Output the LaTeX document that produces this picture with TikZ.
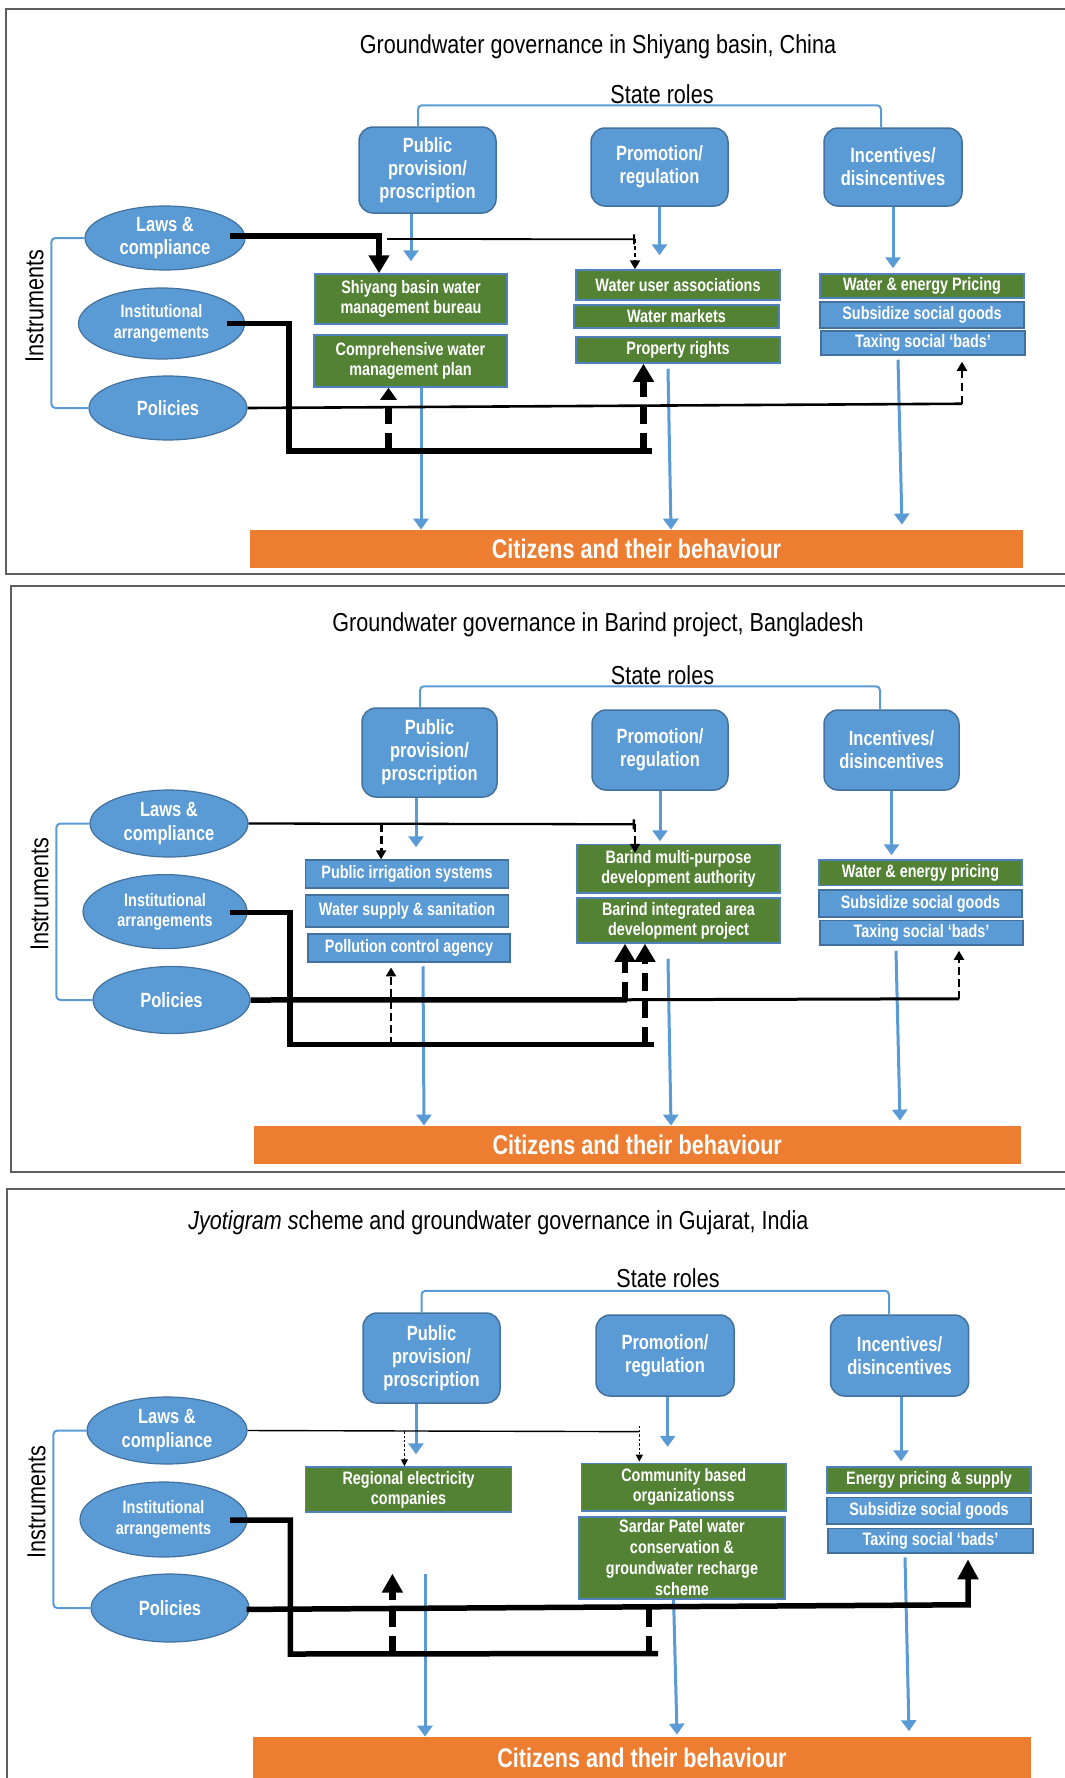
\documentclass[tikz,border=0pt]{standalone}
\usepackage{fontspec}
\setmainfont{Liberation Sans}[FakeStretch=0.83]
\newfontfamily\bxf{Liberation Sans}[FakeStretch=0.8]
\usetikzlibrary{arrows.meta,calc,shapes.geometric}
\definecolor{bfill}{HTML}{5B9BD5}
\definecolor{bdr}{HTML}{41719C}
\definecolor{gfill}{HTML}{548235}
\definecolor{gbdr}{HTML}{4F81BD}
\definecolor{orng}{HTML}{ED7D31}
\definecolor{frm}{HTML}{5F5F5F}
\tikzset{
 every node/.style={inner sep=0pt},
 ttl/.style={font=\fontsize{13}{15}\selectfont},
 role/.style={draw=bdr, fill=bfill, line width=0.75pt, rounded corners=7pt, text=white, align=center, font=\bxf\bfseries\fontsize{10.3}{11.5}\selectfont},
 gbx/.style={draw=gbdr, fill=gfill, line width=0.75pt, text=white, align=center, font=\bxf\bfseries\fontsize{9}{10}\selectfont},
 bbx/.style={gbx, fill=bfill, draw=bdr},
 ell/.style={ellipse, draw=bdr, fill=bfill, line width=0.6pt, text=white, align=center, font=\bxf\bfseries\fontsize{10.3}{11.7}\selectfont},
 ells/.style={ell, font=\bxf\bfseries\fontsize{9}{10.2}\selectfont},
 cit/.style={fill=orng, text=white, font=\bxf\bfseries\fontsize{13.5}{15}\selectfont},
 frame/.style={draw=frm, line width=0.75pt},
 brk/.style={draw=bfill, line width=1pt, rounded corners=2pt},
 barrow/.style={draw=bfill, line width=1.5pt, -{Triangle[width=7.5pt,length=5.5pt]}},
 thk/.style={line width=2.75pt},
 tdash/.style={line width=3.3pt, dash pattern=on 9pt off 4.5pt},
 bighead/.style={-{Triangle[width=10pt,length=9pt]}},
 smhead/.style={-{Triangle[width=5pt,length=4.5pt]}},
 sdash/.style={line width=1.2pt, dash pattern=on 4pt off 2pt},
}
% style, x1, y1, x2, y2, name, text
\newcommand{\bxnode}[7]{\node[#1, minimum width={(#4-#2)*0.5pt}, minimum height={(#5-#3)*0.5pt}] (#6) at ({(#2+#4)/2},{(#3+#5)/2}) {#7};}
\begin{document}
\begin{tikzpicture}[x=0.5pt, y=-0.5pt]
\useasboundingbox (0,0) rectangle (1065,1778);
\clip (0,0) rectangle (1065,1778);

%%%%%%%%%%%%%%%% PANEL 1
\draw[frame] (6,9) rectangle (1090,574);
\node[ttl] (t1) at (598,47) {Groundwater governance in Shiyang basin, China};
\node[ttl] (sr1) at (662,94) {State roles};
\bxnode{role}{359}{127}{496}{213}{pub1}{Public\\provision/\\proscription}
\bxnode{role}{591}{128}{728}{206}{pro1}{Promotion/\\regulation}
\bxnode{role}{824}{128}{962}{206}{inc1}{Incentives/\\disincentives}
\draw[brk] ([xshift=-4.75pt]pub1.north) -- ++(0,-21) -| ([xshift=-6pt]inc1.north);

\bxnode{gbx}{315}{274}{507}{324}{shy1}{Shiyang basin water\\management bureau}
\bxnode{gbx}{314}{335}{507}{387}{cwp1}{Comprehensive water\\management plan}
\bxnode{gbx}{576}{270}{780}{300}{wua1}{Water user associations}
\bxnode{gbx}{574}{305}{779}{328}{wm1}{Water markets}
\bxnode{gbx}{576}{337}{780}{363}{pr1}{Property rights}
\bxnode{gbx}{820}{274}{1024}{298}{wep1}{Water \& energy Pricing}
\bxnode{bbx}{820}{302}{1024}{328}{sub1}{Subsidize social goods}
\bxnode{bbx}{821}{331}{1025}{355}{tax1}{Taxing social ‘bads’}
\bxnode{cit}{250}{530}{1023}{568}{cit1}{Citizens and their behaviour}

\node[ell, minimum width=160*0.5pt, minimum height=64*0.5pt] (laws1) at (165,238) {Laws \&\\compliance};
\node[ells, minimum width=166*0.5pt, minimum height=71*0.5pt] (inst1) at (161.5,323.5) {Institutional\\arrangements};
\node[ell, minimum width=158*0.5pt, minimum height=64*0.5pt] (pol1) at (168,408) {Policies};
\node[ttl, rotate=90] (ins1) at (34.5,306) {Instruments};
\draw[brk] (laws1.west) -- ++(-33,0) |- (pol1.west);

\draw[barrow, shorten >=6pt] (shy1.north |- pub1.south) -- (shy1.north);
\draw[barrow, shorten >=7pt] (pro1.south) -- (pro1.south |- wua1.north);
\draw[barrow, shorten >=2.5pt] (inc1.south) -- (inc1.south |- wep1.north);
\coordinate (b1s) at ([xshift=5.25pt]cwp1.south);
\draw[barrow] (b1s) -- (b1s |- cit1.north);
\coordinate (c1a) at (pr1.south |- cit1.north);
\draw[barrow] ($(pr1.south)+(-10,5)$) -- ($(c1a)+(-7,0)$);
\coordinate (c1b) at (tax1.south |- cit1.north);
\draw[barrow] ($(tax1.south)+(-25,4)$) -- ($(c1b)+(-21,-5)$);

\draw[thk, bighead] ($(laws1.east)+(-16,-2)$) -| ($(shy1.north)+(-32,0)$);
\coordinate (l1a) at (387,239);
\coordinate (l1b) at ($(wua1.north)+(-43,-30)$);
\draw[line width=0.9pt, -{Bar[width=5pt]}] (l1a) -- (l1b);
\draw[sdash, line width=1pt, dash pattern=on 2pt off 1.5pt, smhead] (l1b) -- ($(wua1.north)+(-43,0)$);

\coordinate (i1c) at (289,451);
\coordinate (i1d) at (652,451);
\draw[thk] ($(inst1.east)+(-18,0)$) -| (i1c) -- (i1d);
\coordinate (u1a) at ($(cwp1.south)+(-22,0)$);
\draw[tdash, -{Triangle[width=8pt,length=6pt]}] (u1a |- i1c) -- (u1a);
\coordinate (u1b) at ($(pr1.south)+(-34.5,0)$);
\draw[tdash, bighead] (u1b |- i1d) -- (u1b);

\coordinate (p1e) at ($(tax1.south)+(39,48)$);
\draw[line width=1.3pt] (pol1.east) -- (p1e);
\draw[sdash, line width=1.3pt, dash pattern=on 4pt off 2.5pt, smhead] (p1e) -- ($(tax1.south)+(39,6)$);

%%%%%%%%%%%%%%%% PANEL 2
\draw[frame] (11,586) rectangle (1090,1172);
\node[ttl] (t2) at (598,625) {Groundwater governance in Barind project, Bangladesh};
\node[ttl] (sr2) at (662.5,675) {State roles};
\bxnode{role}{362}{708}{497}{797}{pub2}{Public\\provision/\\proscription}
\bxnode{role}{592}{710}{728}{790}{pro2}{Promotion/\\regulation}
\bxnode{role}{824}{710}{959}{790}{inc2}{Incentives/\\disincentives}
\draw[brk] ([xshift=-4.75pt]pub2.north) -- ++(0,-21) -| ([xshift=-5.75pt]inc2.north);

\bxnode{bbx}{305.5}{860}{508.7}{888}{pis2}{Public irrigation systems}
\bxnode{bbx}{305.5}{895}{508.7}{927}{wss2}{Water supply \& sanitation}
\bxnode{bbx}{308}{934}{510}{962}{pca2}{Pollution control agency}
\bxnode{gbx}{577}{844.5}{780}{893}{bmp2}{Barind multi-purpose\\development authority}
\bxnode{gbx}{577}{898}{780}{943}{bia2}{Barind integrated area\\development project}
\bxnode{gbx}{819}{860}{1022}{885.5}{wep2}{Water \& energy pricing}
\bxnode{bbx}{819}{890}{1022}{917}{sub2}{Subsidize social goods}
\bxnode{bbx}{820}{920.5}{1023}{945}{tax2}{Taxing social ‘bads’}
\bxnode{cit}{254}{1126}{1020.5}{1164}{cit2}{Citizens and their behaviour}

\node[ell, minimum width=158*0.5pt, minimum height=67*0.5pt] (laws2) at (169,823.5) {Laws \&\\compliance};
\node[ells, minimum width=164*0.5pt, minimum height=74*0.5pt] (inst2) at (165,911.6) {Institutional\\arrangements};
\node[ell, minimum width=157*0.5pt, minimum height=67*0.5pt] (pol2) at (171.5,1000) {Policies};
\node[ttl, rotate=90] (ins2) at (39.5,894.5) {Instruments};
\draw[brk] (laws2.west) -- ++(-33,0) |- (pol2.west);

\coordinate (a2) at ([xshift=-6.75pt]pub2.south);
\draw[barrow, shorten >=6pt] (a2) -- (a2 |- pis2.north);
\draw[barrow, shorten >=1.25pt] (pro2.south) -- (pro2.south |- bmp2.north);
\draw[barrow, shorten >=2pt] (inc2.south) -- (inc2.south |- wep2.north);
\coordinate (c2a) at (pca2.south |- cit2.north);
\draw[barrow] ($(pca2.south)+(14,3.6)$) -- ($(c2a)+(15,0)$);
\coordinate (c2b) at (bia2.south |- cit2.north);
\draw[barrow] ($(bia2.south)+(-10.5,15)$) -- ($(c2b)+(-7.5,0)$);
\coordinate (c2c) at (tax2.south |- cit2.north);
\draw[barrow] ($(tax2.south)+(-25.5,5)$) -- ($(c2c)+(-21.5,-5)$);

\coordinate (l2b) at ($(bmp2.north)+(-43.5,-19.5)$);
\draw[line width=1.15pt, -{Bar[width=5pt]}] (laws2.east) -- (l2b);
\draw[sdash, smhead] (l2b) -- ($(bmp2.north)+(-43.5,9)$);
\coordinate (l2c) at ($(pis2.north)+(-26,-35)$);
\draw[sdash, line width=1.4pt, dash pattern=on 4pt off 2pt, smhead] (l2c) -- ($(pis2.north)+(-26,0)$);

\coordinate (p2m) at ($(bia2.south)+(-51.5,56)$);
\draw[thk] (pol2.east) -- (p2m);
\coordinate (p2e) at ($(tax2.south)+(37.5,53)$);
\draw[line width=1.5pt] (p2m) -- (p2e);
\draw[sdash, line width=1.3pt, smhead] (p2e) -- ($(tax2.south)+(37.5,5)$);
\coordinate (u2a) at ($(bia2.south)+(-53.5,0)$);
\draw[tdash, bighead] (u2a |- p2m) -- (u2a);

\coordinate (i2c) at (290,1044.5);
\coordinate (i2d) at (654,1044.5);
\draw[thk] ($(inst2.east)+(-17.5,1)$) -| (i2c) -- (i2d);
\coordinate (u2b) at ($(pca2.south)+(-18,0)$);
\draw[sdash, smhead] (u2b |- i2c) -- ($(u2b)+(0,4.7)$);
\coordinate (u2c) at ($(bia2.south)+(-33.5,0)$);
\draw[tdash, bighead] (u2c |- i2d) -- (u2c);

%%%%%%%%%%%%%%%% PANEL 3
\draw[frame] (7,1189) rectangle (1090,1800);
\node[ttl] (t3) at (498.5,1223) {\itshape Jyotigram s\upshape cheme and groundwater governance in Gujarat, India};
\node[ttl] (sr3) at (668,1278.5) {State roles};
\bxnode{role}{363}{1313}{500}{1403}{pub3}{Public\\provision/\\proscription}
\bxnode{role}{596}{1315}{734}{1396}{pro3}{Promotion/\\regulation}
\bxnode{role}{830.5}{1315}{968.6}{1396}{inc3}{Incentives/\\disincentives}
\draw[brk] ([xshift=-5pt]pub3.north) -- ++(0,-21.5) -| ([xshift=-5.25pt]inc3.north);

\bxnode{gbx}{305.5}{1467}{511.7}{1512}{rec3}{Regional electricity\\companies}
\bxnode{gbx}{581.5}{1463.4}{786}{1511}{cbo3}{Community based\\organizationss}
\bxnode{gbx, font=\bxf\bfseries\fontsize{9}{10.5}\selectfont}{579}{1517}{785}{1599}{spw3}{Sardar Patel water\\conservation \&\\groundwater recharge\\scheme}
\bxnode{gbx}{827}{1467}{1031}{1493}{eps3}{Energy pricing \& supply}
\bxnode{bbx}{827}{1497.6}{1031}{1524}{sub3}{Subsidize social goods}
\bxnode{bbx}{828}{1528.5}{1033}{1553}{tax3}{Taxing social ‘bads’}
\bxnode{cit}{253}{1737}{1031}{1778}{cit3}{Citizens and their behaviour}

\node[ell, minimum width=160*0.5pt, minimum height=67*0.5pt] (laws3) at (167,1430.5) {Laws \&\\compliance};
\node[ells, minimum width=167*0.5pt, minimum height=75*0.5pt] (inst3) at (163.5,1519.5) {Institutional\\arrangements};
\node[ell, minimum width=158*0.5pt, minimum height=68*0.5pt] (pol3) at (170,1608) {Policies};
\node[ttl, rotate=90] (ins3) at (36.5,1502) {Instruments};
\draw[brk] (laws3.west) -- ++(-33,0) |- (pol3.west);

\coordinate (a3) at ([xshift=-7.75pt]pub3.south);
\draw[barrow, shorten >=6pt] (a3) -- (a3 |- rec3.north);
\coordinate (a3b) at ([xshift=1.3pt]pro3.south);
\draw[barrow, shorten >=7.9pt] (a3b) -- (a3b |- cbo3.north);
\coordinate (a3c) at ([xshift=0.75pt]inc3.south);
\draw[barrow, shorten >=2.5pt] (a3c) -- (a3c |- eps3.north);
\coordinate (c3a) at (rec3.south |- cit3.north);
\draw[barrow] ($(rec3.south)+(16.4,61.6)$) -- ($(c3a)+(16.4,0)$);
\coordinate (c3b) at (spw3.south |- cit3.north);
\draw[barrow] ($(spw3.south)+(-8.4,0)$) -- ($(c3b)+(-5,-2)$);
\coordinate (c3c) at (tax3.south |- cit3.north);
\draw[barrow] ($(tax3.south)+(-25.5,3.7)$) -- ($(c3c)+(-21.5,-5.4)$);

\coordinate (l3b) at ($(cbo3.north)+(-44.4,-31)$);
\draw[line width=0.7pt] (laws3.east) -- (l3b);
\draw[line width=0.6pt, dash pattern=on 1.2pt off 1pt, -{Triangle[width=3.5pt,length=3.5pt]}] ($(l3b)+(0,-6)$) -- ($(cbo3.north)+(-44.4,-1)$);
\coordinate (l3c) at ($(rec3.north)+(-4.2,-35)$);
\draw[line width=0.6pt, dash pattern=on 1.2pt off 1pt, -{Triangle[width=3.5pt,length=3.5pt]}] (l3c) -- ($(rec3.north)+(-4.2,0)$);

\coordinate (p3e) at ($(tax3.south)+(37.5,51)$);
\draw[thk, -{Triangle[width=10pt,length=10pt]}] ($(pol3.east)+(-3,1.4)$) -- (p3e) -- ($(tax3.south)+(37.5,5.6)$);

\coordinate (i3c) at (290.4,1654);
\coordinate (i3d) at (658,1653.5);
\draw[thk] ($(inst3.east)+(-17.5,0.5)$) -| (i3c) -- (i3d);
\coordinate (u3a) at (392.4,1573.6);
\draw[tdash, -{Triangle[width=10pt,length=9.5pt]}] (u3a |- i3c) -- (u3a);
\coordinate (u3b) at ($(spw3.south)+(-33,0)$);
\draw[tdash] (u3b |- i3d) -- (u3b);
\end{tikzpicture}
\end{document}
